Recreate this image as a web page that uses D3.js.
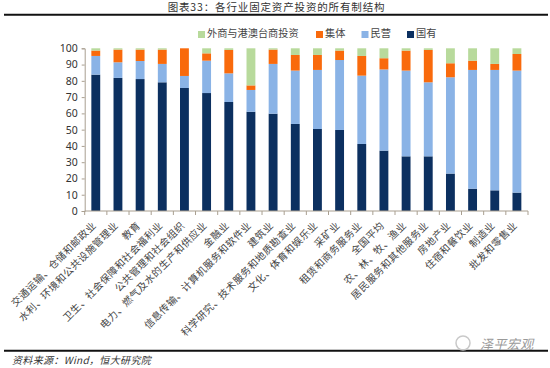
<!DOCTYPE html>
<html><head><meta charset="utf-8">
<script src="https://cdn.jsdelivr.net/npm/d3@7/dist/d3.min.js"></script>
<style>html,body{margin:0;padding:0;background:#fff}svg{display:block}</style>
</head><body><svg id="c" width="550" height="368"></svg>
<script>
const categories=["交通运输、仓储和邮政业","水利、环境和公共设施管理业","教育","卫生、社会保障和社会福利业","公共管理和社会组织","电力、燃气及水的生产和供应业","金融业","信息传输、计算机服务和软件业","建筑业","科学研究、技术服务和地质勘查业","文化、体育和娱乐业","采矿业","租赁和商务服务业","全国平均","农、林、牧、渔业","居民服务和其他服务业","房地产业","住宿和餐饮业","制造业","批发和零售业"];
const stateOwned=[83.8,81.8,81.1,79.1,75.6,72.5,67,61,59.8,53.5,50.4,49.8,41.2,37.1,33.6,33.6,23,13.7,12.7,11.3];
const privateOwned=[11.5,9.6,11.1,11.3,7.4,19.9,17.6,13.4,30.6,32.8,36.3,43,42,49.9,52.7,45.5,59.2,73,74,75];
const collective=[3.3,7.8,7,8.8,17,4.5,14.4,2.8,8.8,9.6,9.2,5.8,12.1,6.9,12.3,19.9,8.6,5.7,3.7,10.2];
const foreign=[1.4,0.8,0.8,0.8,0,3.1,1,22.8,0.8,4.1,4.1,1.4,4.7,6.1,1.4,1,9.2,7.6,9.6,3.5];
const seriesKeys=["state","private","collective","foreign"];
const seriesNames={foreign:"外商与港澳台商投资",collective:"集体",private:"民营",state:"国有"};
const seriesColors={state:"#0C3060",private:"#8AB3E6",collective:"#F96A0C",foreign:"#B8DA9C"};
const legendOrder=["foreign","collective","private","state"];
const yTicks=[0,10,20,30,40,50,60,70,80,90,100];
const titleText="图表33：各行业固定资产投资的所有制结构";
const sourceText="资料来源：Wind，恒大研究院";
const markText="泽平宏观";

const cjk='"Noto Sans CJK SC","Noto Sans",sans-serif';
const svg=d3.select("#c");
const x=d3.scaleBand().domain(categories).range([84.7,528]).paddingInner(0.6).paddingOuter(0.3);
const y=d3.scaleLinear().domain([0,100]).range([211,48.3]);
const rows=categories.map((c,i)=>({c,state:stateOwned[i],private:privateOwned[i],collective:collective[i],foreign:foreign[i]}));
const stack=d3.stack().keys(seriesKeys)(rows);

svg.append("text").attr("x",276.5).attr("y",11).attr("text-anchor","middle")
  .attr("font-family",cjk).attr("font-size",10.5).attr("letter-spacing",0.85).attr("fill","#333").text(titleText);
[14.7,350.7].forEach(v=>svg.append("line").attr("x1",4).attr("x2",548).attr("y1",v).attr("y2",v).attr("stroke","#111").attr("stroke-width",2));

svg.append("g").selectAll("g").data(stack).join("g").attr("fill",d=>seriesColors[d.key])
 .selectAll("rect").data(d=>d).join("rect")
 .attr("x",d=>x(d.data.c)).attr("width",x.bandwidth())
 .attr("y",d=>y(d[1])).attr("height",d=>y(d[0])-y(d[1]));

const axisColor="#A99F90";
const yAxis=svg.append("g").attr("transform","translate(84.7,0)")
 .call(d3.axisLeft(y).tickValues(yTicks).tickSize(3).tickPadding(4));
yAxis.selectAll("path,line").attr("stroke",axisColor);
yAxis.selectAll("text").attr("font-family",'"Noto Sans",sans-serif').attr("font-size",10.5).attr("fill","#333");

const xAxis=svg.append("g").attr("transform","translate(0,211)");
xAxis.append("line").attr("x1",84.7).attr("x2",528).attr("stroke",axisColor);
xAxis.selectAll("line.t").data(d3.range(categories.length+1)).join("line").attr("class","t")
 .attr("x1",i=>84.7+i*(528-84.7)/categories.length).attr("x2",i=>84.7+i*(528-84.7)/categories.length)
 .attr("y1",0).attr("y2",4).attr("stroke",axisColor);
svg.append("g").selectAll("text").data(categories).join("text")
 .attr("transform",c=>`translate(${x(c)+x.bandwidth()/2+1},226) rotate(-45)`)
 .attr("text-anchor","end").attr("font-family",cjk).attr("font-size",10).attr("letter-spacing",0.45).attr("fill","#444").text(c=>c);

const legendX={foreign:198,collective:316,private:361.5,state:407};
const lg=svg.append("g").selectAll("g").data(legendOrder).join("g").attr("transform",k=>`translate(${legendX[k]},31)`);
lg.append("rect").attr("width",7).attr("height",7).attr("fill",k=>seriesColors[k]);
lg.append("text").attr("x",9).attr("y",6).attr("font-family",cjk).attr("font-size",10.2).attr("fill","#444").text(k=>seriesNames[k]);

svg.append("text").attr("x",12).attr("y",364).attr("font-family",cjk).attr("font-size",10).attr("font-style","italic").attr("letter-spacing",0.35).attr("fill","#333").text(sourceText);
svg.append("circle").attr("cx",463).attr("cy",343).attr("r",7).attr("fill","none").attr("stroke","#c9c9c9").attr("stroke-width",1.5);
svg.append("text").attr("x",480).attr("y",349).attr("font-family",cjk).attr("font-size",13).attr("letter-spacing",0.4).attr("font-style","italic").attr("fill","#9a9a9a").text(markText);
</script></body></html>
